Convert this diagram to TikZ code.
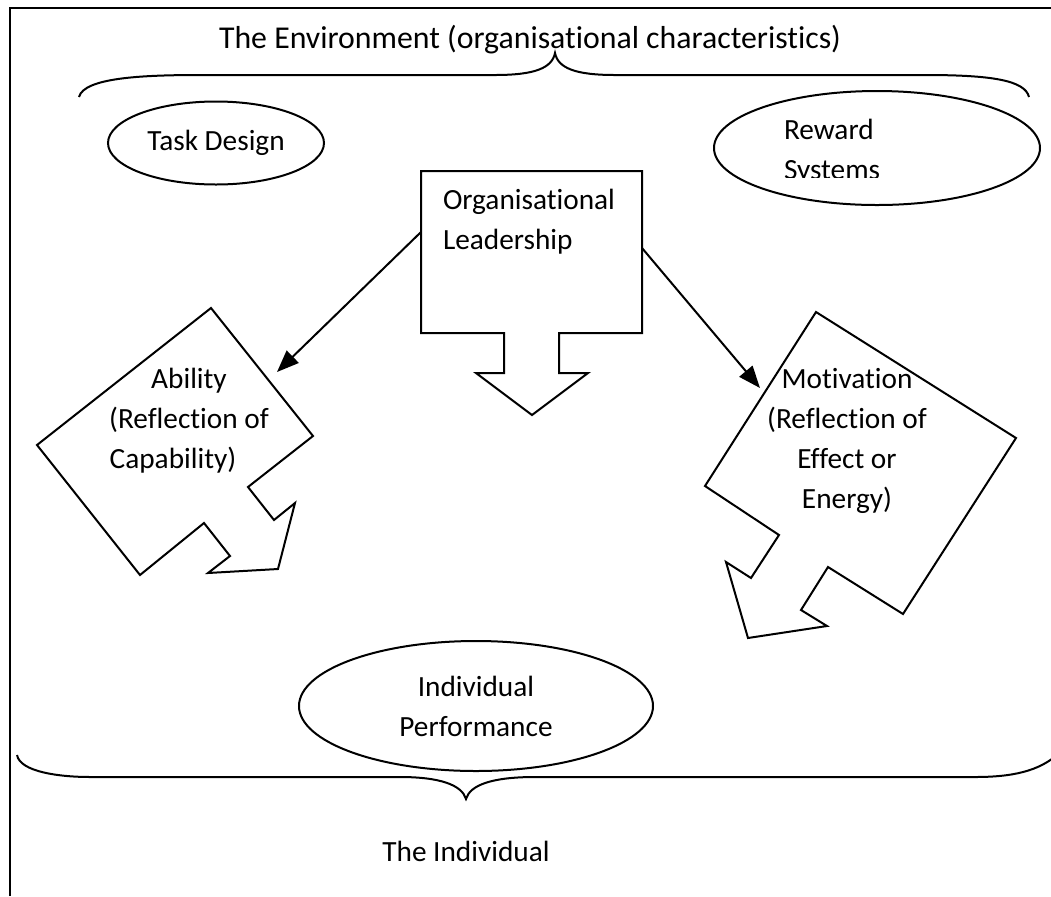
\documentclass[tikz,border=0pt]{standalone}
\usepackage{fontspec}
\setmainfont{Carlito}[Ligatures = {NoCommon, NoRequired, NoContextual}]
\usetikzlibrary{shapes.geometric, arrows.meta}
\begin{document}
\begin{tikzpicture}[x = 0.5pt, y = -0.5pt, line width = 1pt,
        txt/.style = {inner sep = 0pt, align = center, font = \fontsize{14.65pt}{20pt}\selectfont},
        oval/.style = {txt, draw, ellipse},
        lead/.style = {-{Triangle[length = 11pt, width = 8.5pt]}}]
        \useasboundingbox (0, 0) rectangle (1051, 896);
        \clip (0, 0) rectangle (1051, 896);
        \draw[line width = 1.3pt] (10, 896) -- (10, 8) -- (1051, 8);
        \node[txt, font = \fontsize{15.9pt}{20pt}\selectfont] (env) at (530, 40) {The Environment (organisational characteristics)};
        \draw (79, 97) .. controls (84, 78) and (140, 75) .. (200, 75) -- (495, 75)
            .. controls (535, 75) and (552, 68) .. (555, 53)
            .. controls (558, 68) and (575, 75) .. (615, 75) -- (925, 75)
            .. controls (990, 75) and (1025, 80) .. (1029, 97);
        \node[oval, minimum width = 108pt, minimum height = 41.5pt] (task) at (216, 143) {Task Design};
        \node[oval, minimum width = 163pt, minimum height = 57pt] (reward) at (877, 148) {};
        \begin{scope}
            \clip (700, 100) rectangle (1040, 177);
            \node[txt, align = left, anchor = west] (rewardtxt) at (783, 152) {Reward\\Systems};
        \end{scope}
        \draw (421, 171) -- (642, 171) -- (642, 333) -- (559, 333) -- (559, 373) -- (588, 373) -- (532, 415)
            -- (476, 373) -- (504, 373) -- (504, 333) -- (421, 333) -- cycle;
        \node[txt, align = left, anchor = west] (leader) at (442, 222) {Organisational\\Leadership};
        \draw (211, 308) -- (313, 436) -- (248, 487) -- (274, 520) -- (295, 503) -- (278, 569) -- (208, 573)
            -- (230, 556) -- (204, 523) -- (140, 575) -- (37, 445) -- cycle;
        \node[txt] (ability) at (189, 421) {Ability\\(Reflection of\\Capability)\hspace*{16pt}};
        \draw (816, 312) -- (1016, 438) -- (903, 614) -- (828, 567) -- (801, 610) -- (827, 626) -- (748, 638)
            -- (726, 562) -- (751, 578) -- (779, 535) -- (705, 486) -- cycle;
        \node[txt] (motiv) at (847, 441) {Motivation\\(Reflection of\\Effect or\\Energy)};
        \coordinate (lw) at (421, 232);
        \coordinate (le) at (642, 248);
        \coordinate (abl) at (277, 372);
        \coordinate (mot) at (760, 388);
        \foreach \a/\b in {lw/abl, le/mot}
            {\draw[lead] (\a) -- (\b);};
        \node[oval, minimum width = 177pt, minimum height = 65pt] (perf) at (476, 706) {Individual\\Performance};
        \draw (17, 755) .. controls (20, 772) and (60, 777) .. (90, 777) -- (400, 777)
            .. controls (440, 777) and (462, 785) .. (466, 799)
            .. controls (470, 785) and (492, 777) .. (535, 777) -- (975, 777)
            .. controls (1010, 777) and (1040, 772) .. (1060, 752);
        \node[txt] (indiv) at (466, 851) {The Individual};
        \end{tikzpicture}
\end{document}
